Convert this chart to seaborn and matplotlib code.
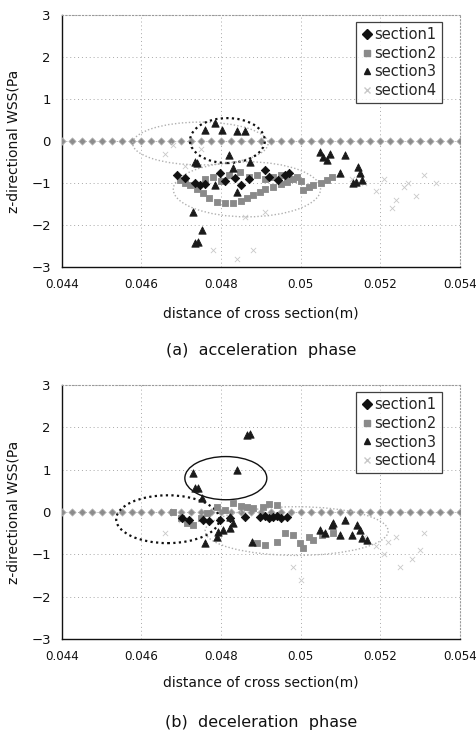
import numpy as np
import pandas as pd
import seaborn as sns
import matplotlib
matplotlib.use("Agg")
import matplotlib.pyplot as plt
from matplotlib.patches import Ellipse
from matplotlib.lines import Line2D

# ---------------- data ----------------
x_ticks = [0.044, 0.046, 0.048, 0.05, 0.052, 0.054]
x_tick_labels = ["0.044", "0.046", "0.048", "0.05", "0.052", "0.054"]
y_ticks = [-3, -2, -1, 0, 1, 2, 3]
series_names = ["section1", "section2", "section3", "section4"]
captions = ["(a)  acceleration  phase", "(b)  deceleration  phase"]

zero_x = [0.04400, 0.04425, 0.04450, 0.04475, 0.04500, 0.04525, 0.04550, 0.04575,
          0.04600, 0.04625, 0.04650, 0.04675, 0.04700, 0.04725, 0.04750, 0.04775,
          0.04800, 0.04825, 0.04850, 0.04875, 0.04900, 0.04925, 0.04950, 0.04975,
          0.05000, 0.05025, 0.05050, 0.05075, 0.05100, 0.05125, 0.05150, 0.05175,
          0.05200, 0.05225, 0.05250, 0.05275, 0.05300, 0.05325, 0.05350, 0.05375, 0.05400]
zero_y = [0.0] * len(zero_x)

# acceleration phase
s1_acc_x = [0.04689, 0.0471, 0.04735, 0.04747, 0.0476, 0.04797, 0.0481, 0.04835, 0.0485,
            0.0487, 0.0491, 0.0492, 0.04943, 0.0496, 0.0497]
s1_acc_y = [-0.81, -0.88, -1.0, -1.05, -1.02, -0.76, -0.95, -0.88, -1.05,
            -0.9, -0.69, -0.85, -0.93, -0.81, -0.75]
s2_acc_x = [0.04696, 0.0471, 0.04722, 0.0474, 0.04755, 0.0477, 0.0479, 0.0481, 0.0483,
            0.0485, 0.04865, 0.0488, 0.04897, 0.0491, 0.0493, 0.0495, 0.04965, 0.0498,
            0.0499, 0.0500, 0.05005, 0.0502, 0.0503, 0.0505, 0.05066, 0.0508,
            0.0476, 0.0478, 0.0480, 0.0482, 0.04847, 0.0487, 0.0489, 0.0491, 0.0493,
            0.0495, 0.0497]
s2_acc_y = [-0.93, -1.0, -1.05, -1.15, -1.24, -1.35, -1.45, -1.47, -1.48,
            -1.42, -1.36, -1.28, -1.21, -1.15, -1.1, -1.03, -0.98, -0.9,
            -0.86, -0.95, -1.17, -1.1, -1.05, -1.0, -0.93, -0.86,
            -0.9, -0.85, -0.95, -0.8, -0.74, -0.85, -0.81, -0.9, -0.85,
            -0.8, -0.9]
s3_acc_x = [0.0476, 0.04785, 0.04802, 0.0484, 0.0486, 0.0482, 0.04735, 0.04739, 0.04872,
            0.0483, 0.04784, 0.0484, 0.0473, 0.04751, 0.04734, 0.04742,
            0.05048, 0.05056, 0.05065, 0.05073, 0.05111, 0.05098, 0.05144, 0.05149,
            0.05131, 0.0514, 0.05154]
s3_acc_y = [0.26, 0.43, 0.26, 0.24, 0.24, -0.33, -0.5, -0.52, -0.5,
            -0.64, -1.05, -1.21, -1.69, -2.12, -2.43, -2.4,
            -0.26, -0.38, -0.45, -0.3, -0.33, -0.76, -0.62, -0.76,
            -1.0, -0.98, -0.93]
s4_acc_x = [0.0466, 0.0468, 0.0471, 0.0475, 0.0478, 0.0484, 0.0486, 0.0488, 0.0491, 0.0505,
            0.0516, 0.0519, 0.0521, 0.0524, 0.0527, 0.0529, 0.0531, 0.0534, 0.0523, 0.0526,
            0.0513]
s4_acc_y = [-0.3, -0.1, -0.6, -0.2, -2.6, -2.8, -1.8, -2.6, -1.7, -1.0,
            -1.0, -1.2, -0.9, -1.4, -1.0, -1.3, -0.8, -1.0, -1.6, -1.1,
            -0.9]

# deceleration phase
s1_dec_x = [0.04701, 0.0472, 0.04754, 0.0477, 0.04797, 0.04822, 0.0486, 0.04897, 0.0491,
            0.0492, 0.0493, 0.0494, 0.0495, 0.04965]
s1_dec_y = [-0.14, -0.2, -0.19, -0.22, -0.2, -0.14, -0.12, -0.12, -0.1,
            -0.15, -0.12, -0.1, -0.15, -0.12]
s2_dec_x = [0.0468, 0.0470, 0.04714, 0.04729, 0.0475, 0.04764, 0.04789, 0.0481, 0.0483,
            0.0485, 0.04865, 0.0488, 0.04905, 0.0492, 0.0494,
            0.0489, 0.0491, 0.0494, 0.0496, 0.0498, 0.04998, 0.05006, 0.0502, 0.0503,
            0.05053, 0.05081]
s2_dec_y = [0.0, -0.15, -0.26, -0.31, -0.15, -0.02, 0.12, 0.05, 0.21,
            0.15, 0.12, 0.1, 0.12, 0.18, 0.16,
            -0.73, -0.78, -0.71, -0.5, -0.54, -0.73, -0.85, -0.6, -0.66,
            -0.54, -0.5]
s3_dec_x = [0.04865, 0.04872, 0.04729, 0.04734, 0.04742, 0.04752, 0.0484, 0.04759, 0.04789,
            0.04792, 0.04805, 0.04822, 0.0483, 0.04822, 0.04877,
            0.05048, 0.0506, 0.05078, 0.05082, 0.05098, 0.05111, 0.05129, 0.05141,
            0.05149, 0.05154, 0.05166]
s3_dec_y = [1.82, 1.85, 0.92, 0.57, 0.57, 0.33, 0.99, -0.73, -0.59,
            -0.47, -0.43, -0.38, -0.26, -0.12, -0.71,
            -0.43, -0.5, -0.31, -0.26, -0.54, -0.19, -0.54, -0.31,
            -0.43, -0.61, -0.66]
s4_dec_x = [0.0516, 0.0519, 0.0522, 0.0525, 0.0528, 0.0530, 0.0531, 0.0524, 0.0521,
            0.0500, 0.0498, 0.0466, 0.0470]
s4_dec_y = [-0.6, -0.8, -0.7, -1.3, -1.1, -0.9, -0.5, -0.6, -1.0,
            -1.6, -1.3, -0.5, -0.2]

# highlight ellipses: (center x, center y, width, height, colour, linestyle)
ell_acc = [(0.04748, -0.06, 0.0034, 1.02, "#b0b0b0", ":"),
           (0.04816, 0.01, 0.00188, 1.07, "#111111", ":"),
           (0.04865, -1.15, 0.0037, 1.31, "#b0b0b0", ":")]
ell_dec = [(0.04666, -0.17, 0.00259, 1.13, "#111111", ":"),
           (0.04812, 0.80, 0.00206, 1.02, "#111111", "-"),
           (0.04990, -0.45, 0.0046, 1.15, "#b0b0b0", ":")]

# ---------------- plotting ----------------
sns.set_theme(style="white")
plt.rcParams["font.family"] = ["DejaVu Sans"]

fig = plt.figure(figsize=(4.76, 7.39), dpi=100)
ax_a = fig.add_axes([0.130, 0.6387, 0.836, 0.341])
ax_b = fig.add_axes([0.130, 0.1353, 0.836, 0.3437])

styles = {
    "section1": dict(marker="D", color="#111111", s=18),
    "section2": dict(marker="s", color="#8a8a8a", s=20),
    "section3": dict(marker="^", color="#1a1a1a", s=28),
    "section4": dict(marker="x", color="#c8c8c8", s=14),
}

def draw(ax, data, ells, caption, cap_y, xlab_y):
    for xt in x_ticks:
        ax.axvline(xt, color="#a8a8a8", lw=0.7, ls=(0, (1, 3)), zorder=0)
    for yt in y_ticks:
        ax.axhline(yt, color="#a8a8a8", lw=0.7, ls=(0, (1, 3)), zorder=0)
    for (cx, cy, w, h, col, ls) in ells:
        ax.add_patch(Ellipse((cx, cy), w, h, fill=False, edgecolor=col,
                             linestyle=ls if ls == "-" else (0, (1, 1.5)),
                             lw=1.6 if col == "#111111" and ls == ":" else 1.0, zorder=4))
    sns.scatterplot(x=zero_x, y=zero_y, ax=ax, marker="D", color="#8c8c8c",
                    s=14, edgecolor="#bbbbbb", linewidth=0.5, zorder=3)
    for name in ["section4", "section2", "section1", "section3"]:
        xs, ys = data[name]
        st = styles[name]
        sns.scatterplot(x=xs, y=ys, ax=ax, marker=st["marker"], color=st["color"],
                        s=st["s"], edgecolor=st["color"] if name != "section4" else None,
                        linewidth=0.6, zorder=5)
    ax.set_xlim(0.044, 0.054)
    ax.set_ylim(-3, 3)
    ax.set_xticks(x_ticks)
    ax.set_xticklabels(x_tick_labels)
    ax.set_yticks(y_ticks)
    ax.set_yticklabels(["\u22123", "\u22122", "\u22121", "0", "1", "2", "3"])
    ax.tick_params(axis="both", direction="in", length=3, width=0.8, colors="#111111")
    ax.tick_params(axis="x", labelsize=8.6, pad=8)
    ax.tick_params(axis="y", labelsize=9.5, pad=8)
    for side in ["left", "bottom"]:
        ax.spines[side].set_color("#111111")
        ax.spines[side].set_linewidth(1.0)
    for side in ["top", "right"]:
        ax.spines[side].set_color("#9a9a9a")
        ax.spines[side].set_linestyle((0, (1, 2)))
        ax.spines[side].set_linewidth(0.8)
    ax.set_xlabel("distance of cross section(m)", fontsize=10, color="#111111", va="center")
    ax.xaxis.set_label_coords(0.5, xlab_y)
    ax.set_ylabel("z-directional WSS(Pa", fontsize=10, color="#111111", labelpad=8)
    handles = [Line2D([], [], linestyle="none", marker=styles[n]["marker"],
                      color=styles[n]["color"], markersize=5 if n != "section4" else 4)
               for n in series_names]
    leg = ax.legend(handles, series_names, loc="upper right",
                    bbox_to_anchor=(0.955, 0.972), borderaxespad=0.0, fontsize=10.5,
                    frameon=True, fancybox=False, edgecolor="#111111",
                    handletextpad=0.1, handlelength=0.8, borderpad=0.35,
                    labelspacing=0.25)
    leg.get_frame().set_linewidth(0.9)
    fig.text(0.5 * (62 + 460) / 476, cap_y, caption, ha="center", va="center",
             fontsize=11.5, color="#111111")

data_acc = {"section1": (s1_acc_x, s1_acc_y), "section2": (s2_acc_x, s2_acc_y),
            "section3": (s3_acc_x, s3_acc_y), "section4": (s4_acc_x, s4_acc_y)}
data_dec = {"section1": (s1_dec_x, s1_dec_y), "section2": (s2_dec_x, s2_dec_y),
            "section3": (s3_dec_x, s3_dec_y), "section4": (s4_dec_x, s4_dec_y)}

draw(ax_a, data_acc, ell_acc, captions[0], 1 - 350 / 739, (267 - 313) / 252)
draw(ax_b, data_dec, ell_dec, captions[1], 1 - 722 / 739, (639 - 682) / 254)

fig.savefig("out.png", dpi=100)
